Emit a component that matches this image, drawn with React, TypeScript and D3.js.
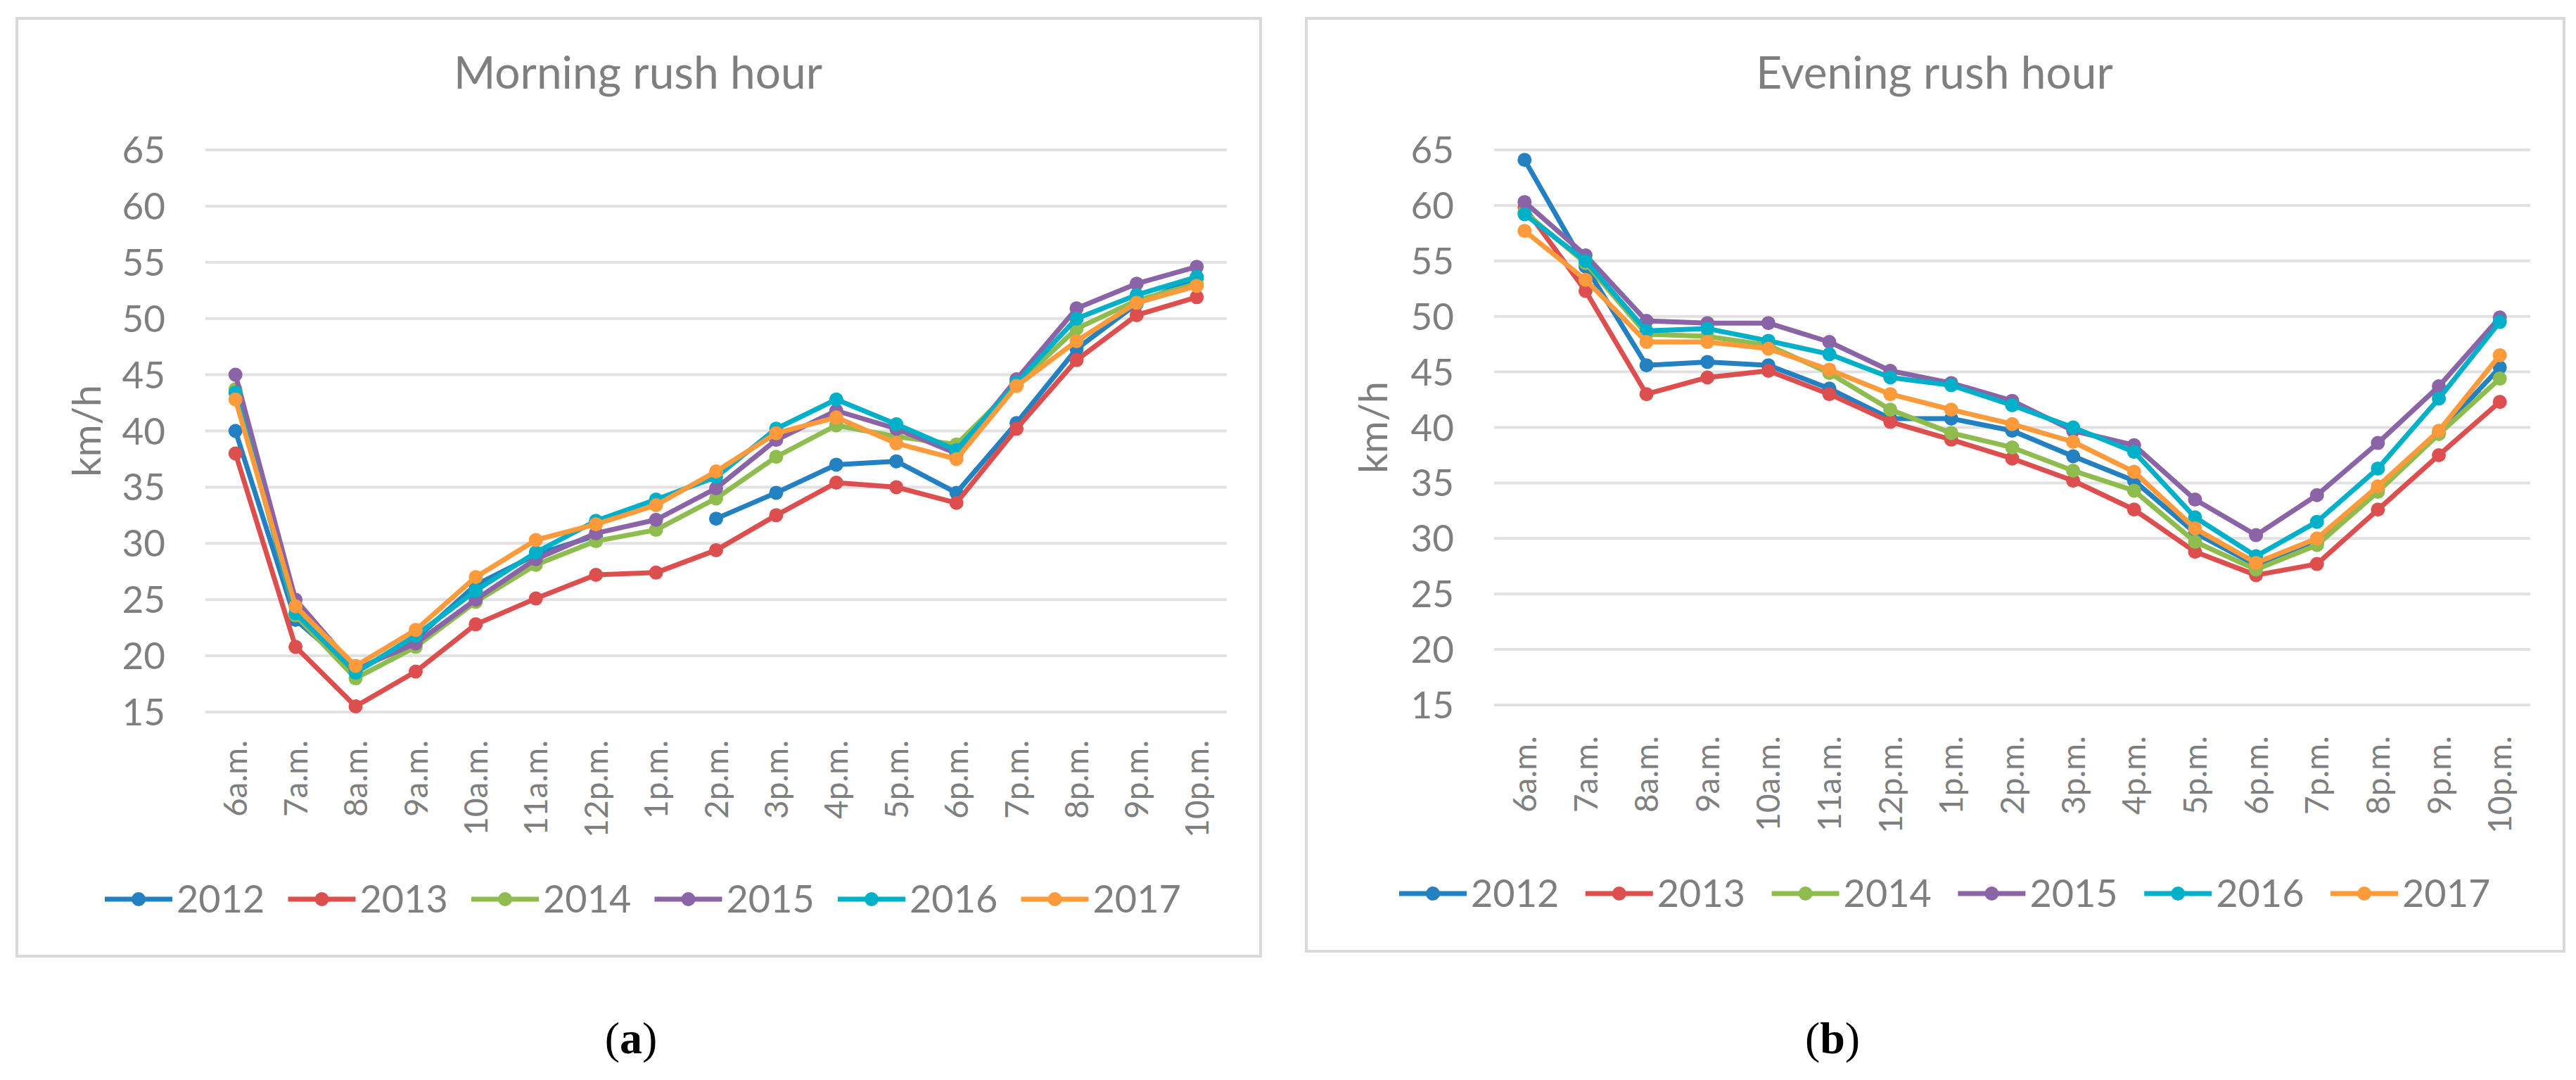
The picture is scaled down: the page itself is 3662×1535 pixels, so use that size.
import * as d3 from "d3";

const hours = ["6a.m.", "7a.m.", "8a.m.", "9a.m.", "10a.m.", "11a.m.", "12p.m.", "1p.m.", "2p.m.", "3p.m.", "4p.m.", "5p.m.", "6p.m.", "7p.m.", "8p.m.", "9p.m.", "10p.m."];
const years = ["2012", "2013", "2014", "2015", "2016", "2017"];
const colors = ["#2481c1", "#dd4f4f", "#8fbc4f", "#8a64a6", "#00afc8", "#fc9a3c"];
const yTicks = [15, 20, 25, 30, 35, 40, 45, 50, 55, 60, 65];

// morning rush hour, km/h (2012 has no value at 1p.m.)
const morning2012 = [40.0, 23.2, 18.6, 21.5, 26.3, 29.0, 30.7, null, 32.2, 34.5, 37.0, 37.3, 34.5, 40.7, 47.3, 51.3, 53.6];
const morning2013 = [38.0, 20.8, 15.5, 18.6, 22.8, 25.1, 27.2, 27.4, 29.4, 32.5, 35.4, 35.0, 33.6, 40.2, 46.3, 50.3, 51.9];
const morning2014 = [43.7, 23.6, 18.0, 20.8, 24.8, 28.1, 30.2, 31.2, 34.0, 37.7, 40.5, 39.5, 38.8, 44.1, 49.1, 51.6, 53.1];
const morning2015 = [45.0, 25.0, 18.8, 21.1, 25.0, 28.6, 30.9, 32.1, 34.9, 39.2, 41.8, 40.2, 38.0, 44.6, 50.9, 53.1, 54.6];
const morning2016 = [43.4, 23.8, 18.5, 21.8, 25.8, 29.2, 32.0, 33.9, 35.9, 40.2, 42.8, 40.6, 38.3, 44.3, 50.0, 52.1, 53.7];
const morning2017 = [42.8, 24.4, 19.1, 22.3, 27.0, 30.3, 31.7, 33.4, 36.4, 39.8, 41.2, 38.9, 37.5, 44.0, 48.0, 51.4, 52.9];

// evening rush hour, km/h
const evening2012 = [64.1, 54.5, 45.6, 45.9, 45.6, 43.5, 40.8, 40.8, 39.7, 37.4, 35.2, 30.5, 27.6, 29.6, 34.4, 39.5, 45.4];
const evening2013 = [59.8, 52.3, 43.0, 44.5, 45.1, 43.0, 40.5, 38.9, 37.2, 35.2, 32.6, 28.8, 26.7, 27.7, 32.6, 37.5, 42.3];
const evening2014 = [59.4, 54.8, 48.4, 48.2, 47.4, 44.9, 41.6, 39.5, 38.2, 36.1, 34.3, 29.7, 27.2, 29.4, 34.2, 39.4, 44.4];
const evening2015 = [60.3, 55.5, 49.6, 49.4, 49.4, 47.7, 45.1, 44.0, 42.4, 39.7, 38.4, 33.5, 30.3, 33.9, 38.6, 43.7, 49.9];
const evening2016 = [59.2, 55.0, 48.7, 48.9, 47.8, 46.6, 44.5, 43.8, 42.0, 40.0, 37.8, 31.9, 28.4, 31.5, 36.3, 42.6, 49.5];
const evening2017 = [57.7, 53.3, 47.7, 47.7, 47.1, 45.2, 43.0, 41.6, 40.3, 38.7, 36.0, 30.9, 27.8, 30.0, 34.7, 39.7, 46.5];

const morningSeries = [morning2012, morning2013, morning2014, morning2015, morning2016, morning2017];
const eveningSeries = [evening2012, evening2013, evening2014, evening2015, evening2016, evening2017];

const FONT = "Lato, 'Open Sans', sans-serif";
const GREY = "#7f7f7f";

type Layout = {
  box: { x: number; y: number; w: number; h: number };
  left: number;
  right: number;
  top: number;
  bottom: number;
  tickX: number;
  axisTitleX: number;
  titleX: number;
  labelY: number;
  legendX: number;
  legendStep: number;
  legendY: number;
  tagX: number;
};

function Panel({ title, series, tag, l }: { title: string; series: (number | null)[][]; tag: string; l: Layout }) {
  const x = d3.scaleBand<string>().domain(hours).range([l.left, l.right]);
  const y = d3.scaleLinear().domain([15, 65]).range([l.bottom, l.top]);
  const cx = (h: string) => (x(h) ?? 0) + x.bandwidth() / 2;

  const line = d3
    .line<number | null>()
    .defined((d) => d != null)
    .x((_, i) => cx(hours[i]))
    .y((d) => y(d as number));

  return (
    <g>
      <rect x={l.box.x} y={l.box.y} width={l.box.w} height={l.box.h} fill="#fff" stroke="#d9d9d9" strokeWidth={4} />
      <text x={l.titleX} y={126} textAnchor="middle" fontSize={64} fill={GREY} fontFamily={FONT}>
        {title}
      </text>

      {/* grid + y ticks */}
      {yTicks.map((t) => (
        <g key={t}>
          <line x1={l.left} x2={l.right} y1={y(t)} y2={y(t)} stroke="#e1e1e1" strokeWidth={4} />
          <text x={l.tickX} y={y(t)} dy="0.36em" textAnchor="end" fontSize={53} fill={GREY} fontFamily={FONT}>
            {t}
          </text>
        </g>
      ))}
      <text
        transform={`translate(${l.axisTitleX},${(l.top + l.bottom) / 2}) rotate(-90)`}
        textAnchor="middle"
        dy="0.36em"
        fontSize={56}
        fill={GREY}
        fontFamily={FONT}
      >
        km/h
      </text>

      {/* x labels */}
      {hours.map((h) => (
        <text
          key={h}
          transform={`translate(${cx(h)},${l.labelY}) rotate(-90)`}
          textAnchor="end"
          dy="0.36em"
          fontSize={46}
          fill={GREY}
          fontFamily={FONT}
        >
          {h}
        </text>
      ))}

      {/* series */}
      {series.map((s, k) => (
        <g key={years[k]}>
          <path d={line(s) ?? undefined} fill="none" stroke={colors[k]} strokeWidth={7} strokeLinejoin="round" />
          {s.map((v, i) =>
            v == null ? null : <circle key={i} cx={cx(hours[i])} cy={y(v)} r={10} fill={colors[k]} />
          )}
        </g>
      ))}

      {/* legend */}
      {years.map((yr, k) => {
        const mx = l.legendX + k * l.legendStep;
        return (
          <g key={yr}>
            <line x1={mx - 48} x2={mx + 48} y1={l.legendY} y2={l.legendY} stroke={colors[k]} strokeWidth={7} />
            <circle cx={mx} cy={l.legendY} r={10} fill={colors[k]} />
            <text x={mx + 54} y={l.legendY} dy="0.36em" fontSize={54} fill={GREY} fontFamily={FONT}>
              {yr}
            </text>
          </g>
        );
      })}

      <text x={l.tagX} y={1497} textAnchor="middle" fontSize={64} fill="#000" fontFamily="'Liberation Serif', serif">
        (<tspan fontWeight="bold">{tag}</tspan>)
      </text>
    </g>
  );
}

const leftLayout: Layout = {
  box: { x: 24, y: 26, w: 1768, h: 1333 },
  left: 292,
  right: 1744,
  top: 213,
  bottom: 1012,
  tickX: 235,
  axisTitleX: 123,
  titleX: 907,
  labelY: 1052,
  legendX: 197,
  legendStep: 260.5,
  legendY: 1278,
  tagX: 897,
};

const rightLayout: Layout = {
  box: { x: 1857, y: 26, w: 1788, h: 1326 },
  left: 2124,
  right: 3597,
  top: 213,
  bottom: 1002,
  tickX: 2067,
  axisTitleX: 1952,
  titleX: 2750,
  labelY: 1046,
  legendX: 2037,
  legendStep: 264.8,
  legendY: 1270,
  tagX: 2605,
};

export default function App() {
  return (
    <div style={{ position: "absolute", left: 0, top: 0 }}>
      <svg width={3662} height={1535} style={{ display: "block", background: "#fff" }}>
        <Panel title="Morning rush hour" series={morningSeries} tag="a" l={leftLayout} />
        <Panel title="Evening rush hour" series={eveningSeries} tag="b" l={rightLayout} />
      </svg>
    </div>
  );
}
